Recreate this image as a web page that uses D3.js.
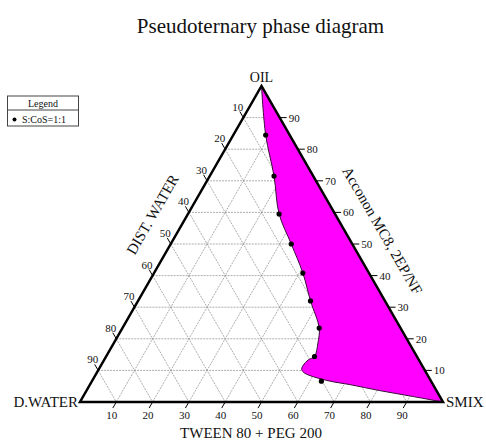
<!DOCTYPE html>
<html>
<head>
<meta charset="utf-8">
<script src="https://cdn.jsdelivr.net/npm/d3@7"></script>
<style>
  body { margin: 0; background: #fff; }
  text { font-family: "Liberation Serif", "Times New Roman", serif; fill: #111; }
</style>
</head>
<body>
<div id="graph"></div>
<script>
// Chart data (percentages)
const ticks = [10, 20, 30, 40, 50, 60, 70, 80, 90];

// titration points S:CoS = 1:1
const pointOil = [84.5, 71.5, 59.5, 50.0, 40.8, 32.0, 23.4, 14.4, 6.6];
const pointSmix = [8.9, 17.7, 25.1, 33.2, 41.0, 47.5, 54.2, 57.4, 63.2];
const pointWater = [6.6, 10.8, 15.4, 16.8, 18.2, 20.5, 22.4, 28.2, 30.2];

// boundary of the shaded region (oil vertex -> smix vertex)
const bOil = [100, 84.5, 71.5, 59.5, 50.0, 40.8, 32.0, 23.4, 18.7, 14.4, 13.3, 11.7, 10.3, 9.1, 8.0, 6.6, 5.5, 3.6, 1.9, 0];
const bSmix = [0, 8.9, 17.7, 25.1, 33.2, 41.0, 47.5, 54.2, 56.2, 57.4, 56.2, 55.7, 55.9, 57.4, 60.3, 65.6, 71.6, 80.8, 90.0, 100];
const bWater = [0, 6.6, 10.8, 15.4, 16.8, 18.2, 20.5, 22.4, 25.1, 28.2, 30.5, 32.6, 33.8, 33.5, 31.7, 27.8, 22.9, 15.6, 8.1, 0];

const width = 486;
const height = 441;

const svg = d3
  .select("#graph")
  .append("svg")
  .attr("width", width)
  .attr("height", height);

// triangle corners
const L = { x: 80, y: 402 };   // D.WATER
const R = { x: 443, y: 402 };  // SMIX
const T = { x: 261.5, y: 86 }; // OIL

// barycentric scales
const sx = d3.scaleLinear().domain([0, 100]).range([0, 1]);
function pt(oil, smix, water) {
  const o = sx(oil), s = sx(smix), w = sx(water);
  const sum = o + s + w;
  return [
    (L.x * w + R.x * s + T.x * o) / sum,
    (L.y * w + R.y * s + T.y * o) / sum
  ];
}

// grid
const grid = svg.append("g").attr("class", "grid");
const gridLines = [];
ticks.forEach((k) => {
  gridLines.push([pt(k, 0, 100 - k), pt(k, 100 - k, 0)]); // oil const
  gridLines.push([pt(100 - k, 0, k), pt(0, 100 - k, k)]); // water const
  gridLines.push([pt(0, k, 100 - k), pt(100 - k, k, 0)]); // smix const
});

// shaded region
const boundary = bOil.map((d, i) => pt(d, bSmix[i], bWater[i]));
const area = d3.line().curve(d3.curveCatmullRom.alpha(0.5));
svg
  .append("path")
  .attr("d", area(boundary) + "Z")
  .attr("fill", "#ff00ff")
  .attr("stroke", "#3a0a3a")
  .attr("stroke-width", 1);

grid
  .selectAll("line")
  .data(gridLines)
  .enter()
  .append("line")
  .attr("x1", (d) => d[0][0])
  .attr("y1", (d) => d[0][1])
  .attr("x2", (d) => d[1][0])
  .attr("y2", (d) => d[1][1])
  .attr("stroke", "#8a8a8a")
  .attr("stroke-width", 0.7)
  .attr("stroke-dasharray", "2,1");

// triangle outline
svg
  .append("path")
  .attr("d", `M${L.x},${L.y}L${R.x},${R.y}L${T.x},${T.y}Z`)
  .attr("fill", "none")
  .attr("stroke", "#000")
  .attr("stroke-width", 2.5)
  .attr("stroke-linejoin", "miter");

// ticks and tick labels
const tk = 7;
const c60 = 0.5, s60 = Math.sqrt(3) / 2;
const axes = svg.append("g").attr("class", "axes").style("font-size", "11px");

ticks.forEach((k) => {
  // right axis (oil)
  const pr = pt(k, 100 - k, 0);
  axes.append("line")
    .attr("x1", pr[0]).attr("y1", pr[1])
    .attr("x2", pr[0] + tk).attr("y2", pr[1])
    .attr("stroke", "#000").attr("stroke-width", 1);
  axes.append("text")
    .attr("x", pr[0] + tk + 2).attr("y", pr[1] + 4)
    .text(k);

  // left axis (water)
  const pl = pt(100 - k, 0, k);
  axes.append("line")
    .attr("x1", pl[0]).attr("y1", pl[1])
    .attr("x2", pl[0] - tk * c60).attr("y2", pl[1] - tk * s60)
    .attr("stroke", "#000").attr("stroke-width", 1);
  axes.append("text")
    .attr("x", pl[0] - tk * c60 - 2).attr("y", pl[1] - tk * s60 - 1)
    .attr("text-anchor", "middle")
    .text(k);

  // bottom axis (smix)
  const pb = pt(0, k, 100 - k);
  axes.append("line")
    .attr("x1", pb[0]).attr("y1", pb[1])
    .attr("x2", pb[0] - tk * c60).attr("y2", pb[1] + tk * s60)
    .attr("stroke", "#000").attr("stroke-width", 1);
  axes.append("text")
    .attr("x", pb[0] - tk * c60 - 1).attr("y", pb[1] + tk * s60 + 11)
    .attr("text-anchor", "middle")
    .text(k);
});

// data points
svg
  .append("g")
  .selectAll("circle")
  .data(pointOil.map((d, i) => pt(d, pointSmix[i], pointWater[i])))
  .enter()
  .append("circle")
  .attr("cx", (d) => d[0])
  .attr("cy", (d) => d[1])
  .attr("r", 2.6)
  .attr("fill", "#000");

// labels
svg.append("text")
  .attr("x", 260.5).attr("y", 33)
  .attr("text-anchor", "middle")
  .style("font-size", "21px")
  .text("Pseudoternary phase diagram");

svg.append("text")
  .attr("x", T.x).attr("y", 82)
  .attr("text-anchor", "middle")
  .style("font-size", "14px")
  .text("OIL");

svg.append("text")
  .attr("x", L.x - 2).attr("y", 407)
  .attr("text-anchor", "end")
  .style("font-size", "15px")
  .text("D.WATER");

svg.append("text")
  .attr("x", R.x + 3).attr("y", 407)
  .style("font-size", "15px")
  .text("SMIX");

svg.append("text")
  .attr("x", 251).attr("y", 438)
  .attr("text-anchor", "middle")
  .style("font-size", "15px")
  .text("TWEEN 80 + PEG 200");

svg.append("text")
  .attr("transform", "translate(157,217) rotate(-60)")
  .attr("text-anchor", "middle")
  .style("font-size", "15px")
  .text("DIST. WATER");

svg.append("text")
  .attr("transform", "translate(378,233) rotate(60)")
  .attr("text-anchor", "middle")
  .style("font-size", "15px")
  .text("Acconon MC8, 2EP/NF");

// legend
const legend = svg.append("g").attr("class", "legend");
legend.append("rect")
  .attr("x", 7.5).attr("y", 96)
  .attr("width", 71).attr("height", 30)
  .attr("fill", "#fff")
  .attr("stroke", "#444")
  .attr("stroke-width", 1);
legend.append("line")
  .attr("x1", 7.5).attr("x2", 78.5)
  .attr("y1", 110).attr("y2", 110)
  .attr("stroke", "#444");
legend.append("text")
  .attr("x", 43).attr("y", 106.5)
  .attr("text-anchor", "middle")
  .style("font-size", "10px")
  .text("Legend");
legend.append("circle")
  .attr("cx", 14.5).attr("cy", 119.5)
  .attr("r", 2)
  .attr("fill", "#000");
legend.append("text")
  .attr("x", 22).attr("y", 122.5)
  .style("font-size", "10px")
  .text("S:CoS=1:1");
</script>
</body>
</html>
